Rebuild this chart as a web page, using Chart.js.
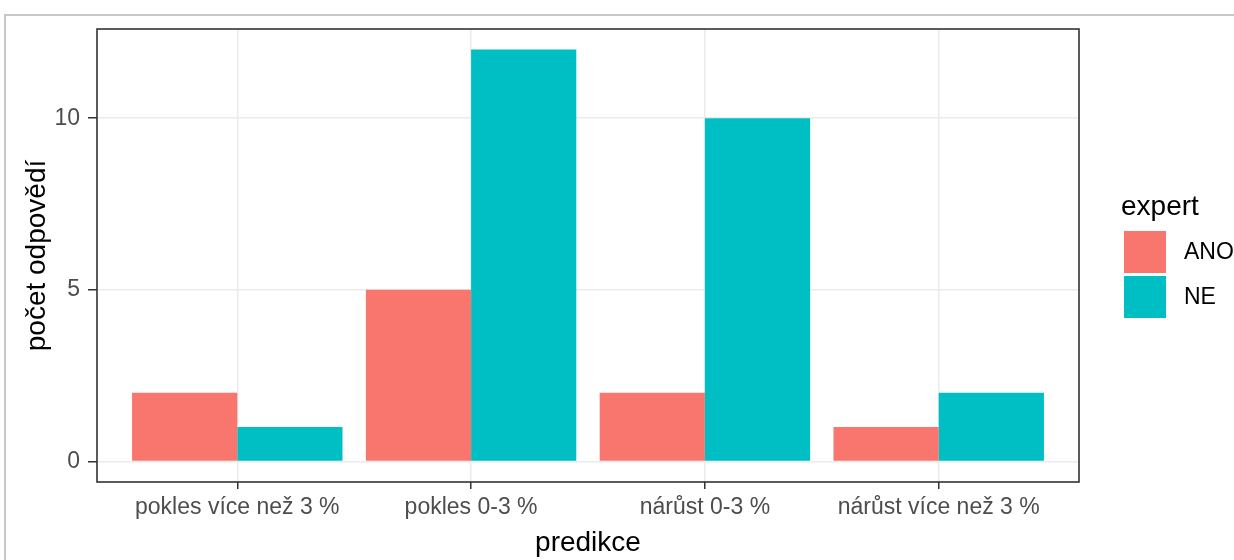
<!DOCTYPE html>
<html>
<head>
<meta charset="utf-8">
<script src="https://cdn.jsdelivr.net/npm/chart.js@4.4.1/dist/chart.umd.min.js"></script>
<style>
  body { margin: 0; background: #fff; }
  #wrap { position: relative; width: 1234px; height: 560px; overflow: hidden; }
  #frame { position: absolute; left: 4px; top: 14px; right: -10px; bottom: -10px;
           border-left: 2px solid #c8c8c8; border-top: 2px solid #c8c8c8; pointer-events: none; }
</style>
</head>
<body>
<div id="wrap">
  <canvas id="chart" width="1234" height="560"></canvas>
  <div id="frame"></div>
</div>
<script>
const categories = ['pokles více než 3 %', 'pokles 0-3 %', 'nárůst 0-3 %', 'nárůst více než 3 %'];
const seriesNames = ['ANO', 'NE'];
const anoValues = [2, 5, 2, 1];
const neValues = [1, 12, 10, 2];
const yTicks = [0, 5, 10];

const FONT = "'Liberation Sans', Arial, sans-serif";

function toPoints(values) {
    return values.map((v, i) => ({ x: i + 1, y: v }));
}

// ggplot-like panel border + legend drawn on top
const panelAndLegend = {
    id: 'panelAndLegend',
    afterDraw(chart) {
        const ctx = chart.ctx;
        const a = chart.chartArea;
        ctx.save();
        ctx.strokeStyle = '#333333';
        ctx.lineWidth = 1.6;
        ctx.strokeRect(a.left, a.top, a.right - a.left, a.bottom - a.top);

        // legend
        ctx.fillStyle = '#000';
        ctx.font = '28px ' + FONT;
        ctx.textBaseline = 'middle';
        ctx.textAlign = 'left';
        ctx.fillText('expert', 1121, 207);
        ctx.font = '23px ' + FONT;
        chart.data.datasets.forEach((ds, i) => {
            const y = 231 + i * 45;
            ctx.fillStyle = ds.backgroundColor;
            ctx.fillRect(1124, y, 42, 42);
            ctx.fillStyle = '#000';
            ctx.fillText(ds.label, 1184, y + 22);
        });
        ctx.restore();
    }
};

new Chart(document.getElementById('chart'), {
    type: 'bar',
    data: {
        datasets: [
            { label: seriesNames[0], data: toPoints(anoValues), backgroundColor: '#F8766D' },
            { label: seriesNames[1], data: toPoints(neValues), backgroundColor: '#00BFC4' }
        ]
    },
    options: {
        responsive: false,
        animation: false,
        categoryPercentage: 0.9,
        barPercentage: 1.0,
        layout: { padding: { top: 29, right: 155, left: 0, bottom: 0 } },
        plugins: {
            legend: { display: false },
            tooltip: { enabled: false }
        },
        scales: {
            x: {
                type: 'linear',
                min: 0.4,
                max: 4.6,
                offset: false,
                afterBuildTicks: scale => { scale.ticks = categories.map((c, i) => ({ value: i + 1 })); },
                afterFit: scale => { scale.height = 78; },
                grid: { offset: false, color: '#EBEBEB', lineWidth: 1.5, tickColor: '#333333', tickWidth: 1.5, tickLength: 7 },
                border: { display: false },
                ticks: {
                    autoSkip: false,
                    maxRotation: 0,
                    padding: 5,
                    color: '#4D4D4D',
                    font: { family: FONT, size: 23 },
                    callback: v => categories[v - 1]
                },
                title: {
                    display: true,
                    text: 'predikce',
                    color: '#000',
                    font: { family: FONT, size: 28 },
                    padding: { top: 0, bottom: 0 }
                }
            },
            y: {
                min: -0.6,
                max: 12.6,
                afterBuildTicks: scale => { scale.ticks = yTicks.map(v => ({ value: v })); },
                afterFit: scale => { scale.width = 97; },
                grid: { color: '#EBEBEB', lineWidth: 1.5, tickColor: '#333333', tickWidth: 1.5, tickLength: 9 },
                border: { display: false },
                ticks: {
                    padding: 8,
                    color: '#4D4D4D',
                    font: { family: FONT, size: 23 }
                },
                title: {
                    display: true,
                    text: 'počet odpovědí',
                    color: '#000',
                    font: { family: FONT, size: 28 },
                    padding: { top: 20, bottom: 0 }
                }
            }
        }
    },
    plugins: [panelAndLegend]
});
</script>
</body>
</html>
